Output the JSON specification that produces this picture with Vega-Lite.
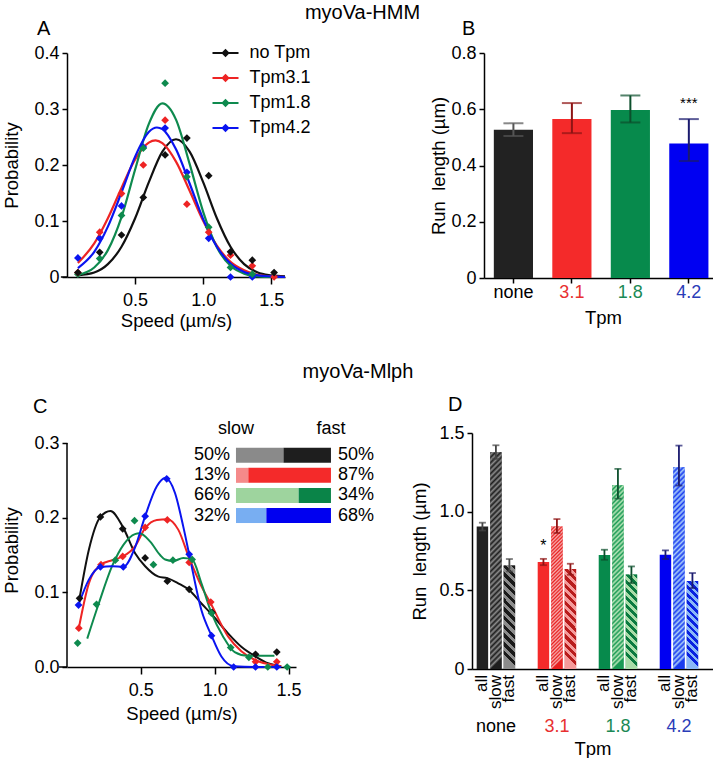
{
  "$schema": "https://vega.github.io/schema/vega-lite/v6.json",
  "background": "white",
  "padding": {"left": 2, "top": 3, "right": 0, "bottom": 0},
  "config": {
    "font": "Liberation Sans",
    "view": {"stroke": null},
    "axis": {"domainColor": "#000", "domainWidth": 1.5, "tickColor": "#000", "tickWidth": 1.5, "tickSize": 6, "labelFontSize": 18, "labelColor": "#000", "titleFontSize": 18.5, "titleFontWeight": "normal", "titleColor": "#000", "grid": false, "labelPadding": 3},
    "title": {"fontSize": 20, "fontWeight": "normal", "color": "#000"}
  },
  "datasets": {
    "Acurves": [
      {"s":"no Tpm","x":0.08,"y":0.003},{"s":"no Tpm","x":0.2,"y":0.008},{"s":"no Tpm","x":0.3,"y":0.023},{"s":"no Tpm","x":0.4,"y":0.054},{"s":"no Tpm","x":0.5,"y":0.105},{"s":"no Tpm","x":0.6,"y":0.169},{"s":"no Tpm","x":0.7,"y":0.224},{"s":"no Tpm","x":0.8,"y":0.246},{"s":"no Tpm","x":0.9,"y":0.224},{"s":"no Tpm","x":1.0,"y":0.169},{"s":"no Tpm","x":1.1,"y":0.105},{"s":"no Tpm","x":1.2,"y":0.054},{"s":"no Tpm","x":1.3,"y":0.023},{"s":"no Tpm","x":1.4,"y":0.008},{"s":"no Tpm","x":1.5,"y":0.003},{"s":"no Tpm","x":1.6,"y":0.001},
      {"s":"Tpm3.1","x":0.08,"y":0.025},{"s":"Tpm3.1","x":0.2,"y":0.060},{"s":"Tpm3.1","x":0.3,"y":0.105},{"s":"Tpm3.1","x":0.4,"y":0.159},{"s":"Tpm3.1","x":0.5,"y":0.210},{"s":"Tpm3.1","x":0.6,"y":0.240},{"s":"Tpm3.1","x":0.65,"y":0.244},{"s":"Tpm3.1","x":0.7,"y":0.239},{"s":"Tpm3.1","x":0.8,"y":0.206},{"s":"Tpm3.1","x":0.9,"y":0.154},{"s":"Tpm3.1","x":1.0,"y":0.100},{"s":"Tpm3.1","x":1.1,"y":0.056},{"s":"Tpm3.1","x":1.2,"y":0.027},{"s":"Tpm3.1","x":1.3,"y":0.012},{"s":"Tpm3.1","x":1.4,"y":0.004},{"s":"Tpm3.1","x":1.5,"y":0.001},{"s":"Tpm3.1","x":1.6,"y":0.0},
      {"s":"Tpm1.8","x":0.08,"y":0.004},{"s":"Tpm1.8","x":0.2,"y":0.017},{"s":"Tpm1.8","x":0.3,"y":0.048},{"s":"Tpm1.8","x":0.4,"y":0.107},{"s":"Tpm1.8","x":0.5,"y":0.192},{"s":"Tpm1.8","x":0.6,"y":0.273},{"s":"Tpm1.8","x":0.7,"y":0.310},{"s":"Tpm1.8","x":0.8,"y":0.281},{"s":"Tpm1.8","x":0.9,"y":0.202},{"s":"Tpm1.8","x":1.0,"y":0.116},{"s":"Tpm1.8","x":1.1,"y":0.053},{"s":"Tpm1.8","x":1.2,"y":0.020},{"s":"Tpm1.8","x":1.3,"y":0.006},{"s":"Tpm1.8","x":1.4,"y":0.001},{"s":"Tpm1.8","x":1.5,"y":0.0},{"s":"Tpm1.8","x":1.6,"y":0.0},
      {"s":"Tpm4.2","x":0.08,"y":0.016},{"s":"Tpm4.2","x":0.2,"y":0.045},{"s":"Tpm4.2","x":0.3,"y":0.090},{"s":"Tpm4.2","x":0.4,"y":0.151},{"s":"Tpm4.2","x":0.5,"y":0.215},{"s":"Tpm4.2","x":0.6,"y":0.259},{"s":"Tpm4.2","x":0.66,"y":0.267},{"s":"Tpm4.2","x":0.7,"y":0.264},{"s":"Tpm4.2","x":0.8,"y":0.228},{"s":"Tpm4.2","x":0.9,"y":0.167},{"s":"Tpm4.2","x":1.0,"y":0.103},{"s":"Tpm4.2","x":1.1,"y":0.054},{"s":"Tpm4.2","x":1.2,"y":0.024},{"s":"Tpm4.2","x":1.3,"y":0.009},{"s":"Tpm4.2","x":1.4,"y":0.003},{"s":"Tpm4.2","x":1.5,"y":0.001},{"s":"Tpm4.2","x":1.6,"y":0.0}
    ],
    "Apoints": [
      {"s":"Tpm4.2","x":0.08,"y":0.034},{"s":"Tpm4.2","x":0.24,"y":0.069},{"s":"Tpm4.2","x":0.40,"y":0.127},{"s":"Tpm4.2","x":0.56,"y":0.232},{"s":"Tpm4.2","x":0.72,"y":0.266},{"s":"Tpm4.2","x":0.88,"y":0.187},{"s":"Tpm4.2","x":1.04,"y":0.069},{"s":"Tpm4.2","x":1.20,"y":0.0},{"s":"Tpm4.2","x":1.36,"y":0.0},
      {"s":"Tpm1.8","x":0.08,"y":0.005},{"s":"Tpm1.8","x":0.24,"y":0.033},{"s":"Tpm1.8","x":0.40,"y":0.110},{"s":"Tpm1.8","x":0.56,"y":0.230},{"s":"Tpm1.8","x":0.72,"y":0.346},{"s":"Tpm1.8","x":0.88,"y":0.179},{"s":"Tpm1.8","x":1.04,"y":0.089},{"s":"Tpm1.8","x":1.20,"y":0.017},{"s":"Tpm1.8","x":1.36,"y":0.005},
      {"s":"Tpm3.1","x":0.08,"y":0.008},{"s":"Tpm3.1","x":0.24,"y":0.080},{"s":"Tpm3.1","x":0.40,"y":0.149},{"s":"Tpm3.1","x":0.56,"y":0.200},{"s":"Tpm3.1","x":0.72,"y":0.280},{"s":"Tpm3.1","x":0.88,"y":0.130},{"s":"Tpm3.1","x":1.04,"y":0.080},{"s":"Tpm3.1","x":1.20,"y":0.039},{"s":"Tpm3.1","x":1.36,"y":0.020},{"s":"Tpm3.1","x":1.52,"y":0.0},
      {"s":"no Tpm","x":0.08,"y":0.008},{"s":"no Tpm","x":0.24,"y":0.044},{"s":"no Tpm","x":0.40,"y":0.075},{"s":"no Tpm","x":0.56,"y":0.142},{"s":"no Tpm","x":0.72,"y":0.218},{"s":"no Tpm","x":0.88,"y":0.248},{"s":"no Tpm","x":1.04,"y":0.181},{"s":"no Tpm","x":1.20,"y":0.045},{"s":"no Tpm","x":1.36,"y":0.030},{"s":"no Tpm","x":1.52,"y":0.008}
    ],
    "Alegend": [
      {"s":"no Tpm","row":1},{"s":"Tpm3.1","row":2},{"s":"Tpm1.8","row":3},{"s":"Tpm4.2","row":4}
    ],
    "B": [
      {"tpm":"none","v":0.527,"lo":0.505,"hi":0.550},
      {"tpm":"3.1","v":0.565,"lo":0.515,"hi":0.622},
      {"tpm":"1.8","v":0.597,"lo":0.553,"hi":0.649},
      {"tpm":"4.2","v":0.478,"lo":0.416,"hi":0.565,"sig":"***"}
    ],
    "Ccurves": [
      {"s":"no Tpm","x":0.085,"y":0.092},{"s":"no Tpm","x":0.148,"y":0.157},{"s":"no Tpm","x":0.226,"y":0.201},{"s":"no Tpm","x":0.294,"y":0.209},{"s":"no Tpm","x":0.377,"y":0.188},{"s":"no Tpm","x":0.462,"y":0.152},{"s":"no Tpm","x":0.529,"y":0.135},{"s":"no Tpm","x":0.619,"y":0.121},{"s":"no Tpm","x":0.679,"y":0.119},{"s":"no Tpm","x":0.753,"y":0.112},{"s":"no Tpm","x":0.827,"y":0.103},{"s":"no Tpm","x":0.91,"y":0.085},{"s":"no Tpm","x":0.982,"y":0.07},{"s":"no Tpm","x":1.09,"y":0.045},{"s":"no Tpm","x":1.18,"y":0.027},{"s":"no Tpm","x":1.276,"y":0.014},{"s":"no Tpm","x":1.36,"y":0.005},{"s":"no Tpm","x":1.45,"y":0.001},
      {"s":"Tpm3.1","x":0.08,"y":0.052},{"s":"Tpm3.1","x":0.148,"y":0.112},{"s":"Tpm3.1","x":0.23,"y":0.137},{"s":"Tpm3.1","x":0.305,"y":0.143},{"s":"Tpm3.1","x":0.377,"y":0.148},{"s":"Tpm3.1","x":0.462,"y":0.162},{"s":"Tpm3.1","x":0.529,"y":0.186},{"s":"Tpm3.1","x":0.608,"y":0.197},{"s":"Tpm3.1","x":0.679,"y":0.198},{"s":"Tpm3.1","x":0.753,"y":0.184},{"s":"Tpm3.1","x":0.827,"y":0.146},{"s":"Tpm3.1","x":0.91,"y":0.108},{"s":"Tpm3.1","x":0.973,"y":0.085},{"s":"Tpm3.1","x":1.09,"y":0.041},{"s":"Tpm3.1","x":1.18,"y":0.021},{"s":"Tpm3.1","x":1.276,"y":0.009},{"s":"Tpm3.1","x":1.36,"y":0.004},{"s":"Tpm3.1","x":1.45,"y":0.001},
      {"s":"Tpm1.8","x":0.137,"y":0.038},{"s":"Tpm1.8","x":0.215,"y":0.085},{"s":"Tpm1.8","x":0.305,"y":0.135},{"s":"Tpm1.8","x":0.383,"y":0.164},{"s":"Tpm1.8","x":0.46,"y":0.178},{"s":"Tpm1.8","x":0.49,"y":0.179},{"s":"Tpm1.8","x":0.563,"y":0.168},{"s":"Tpm1.8","x":0.63,"y":0.150},{"s":"Tpm1.8","x":0.664,"y":0.144},{"s":"Tpm1.8","x":0.72,"y":0.142},{"s":"Tpm1.8","x":0.787,"y":0.146},{"s":"Tpm1.8","x":0.847,"y":0.144},{"s":"Tpm1.8","x":0.91,"y":0.112},{"s":"Tpm1.8","x":0.978,"y":0.072},{"s":"Tpm1.8","x":1.056,"y":0.041},{"s":"Tpm1.8","x":1.135,"y":0.020},{"s":"Tpm1.8","x":1.224,"y":0.015},{"s":"Tpm1.8","x":1.404,"y":0.015},
      {"s":"Tpm4.2","x":0.078,"y":0.083},{"s":"Tpm4.2","x":0.148,"y":0.117},{"s":"Tpm4.2","x":0.226,"y":0.134},{"s":"Tpm4.2","x":0.305,"y":0.135},{"s":"Tpm4.2","x":0.381,"y":0.134},{"s":"Tpm4.2","x":0.462,"y":0.161},{"s":"Tpm4.2","x":0.529,"y":0.202},{"s":"Tpm4.2","x":0.608,"y":0.242},{"s":"Tpm4.2","x":0.664,"y":0.253},{"s":"Tpm4.2","x":0.731,"y":0.233},{"s":"Tpm4.2","x":0.787,"y":0.188},{"s":"Tpm4.2","x":0.827,"y":0.151},{"s":"Tpm4.2","x":0.91,"y":0.076},{"s":"Tpm4.2","x":0.978,"y":0.042},{"s":"Tpm4.2","x":1.045,"y":0.014},{"s":"Tpm4.2","x":1.128,"y":0.001},{"s":"Tpm4.2","x":1.27,"y":0.0},{"s":"Tpm4.2","x":1.45,"y":0.0}
    ],
    "Cpoints": [
      {"s":"no Tpm","x":0.085,"y":0.092},{"s":"no Tpm","x":0.226,"y":0.201},{"s":"no Tpm","x":0.377,"y":0.185},{"s":"no Tpm","x":0.529,"y":0.146},{"s":"no Tpm","x":0.679,"y":0.115},{"s":"no Tpm","x":0.827,"y":0.104},{"s":"no Tpm","x":0.982,"y":0.073},{"s":"no Tpm","x":1.276,"y":0.017},{"s":"no Tpm","x":1.42,"y":0.020},
      {"s":"Tpm3.1","x":0.08,"y":0.052},{"s":"Tpm3.1","x":0.23,"y":0.137},{"s":"Tpm3.1","x":0.377,"y":0.148},{"s":"Tpm3.1","x":0.529,"y":0.187},{"s":"Tpm3.1","x":0.679,"y":0.197},{"s":"Tpm3.1","x":0.827,"y":0.140},{"s":"Tpm3.1","x":0.973,"y":0.087},{"s":"Tpm3.1","x":1.276,"y":0.007},{"s":"Tpm3.1","x":1.42,"y":0.007},
      {"s":"Tpm1.8","x":0.072,"y":0.032},{"s":"Tpm1.8","x":0.2,"y":0.084},{"s":"Tpm1.8","x":0.327,"y":0.143},{"s":"Tpm1.8","x":0.457,"y":0.196},{"s":"Tpm1.8","x":0.585,"y":0.137},{"s":"Tpm1.8","x":0.717,"y":0.143},{"s":"Tpm1.8","x":0.847,"y":0.144},{"s":"Tpm1.8","x":0.978,"y":0.072},{"s":"Tpm1.8","x":1.108,"y":0.026},{"s":"Tpm1.8","x":1.231,"y":0.013},{"s":"Tpm1.8","x":1.359,"y":0.0},{"s":"Tpm1.8","x":1.49,"y":0.0},
      {"s":"Tpm4.2","x":0.078,"y":0.083},{"s":"Tpm4.2","x":0.226,"y":0.134},{"s":"Tpm4.2","x":0.381,"y":0.134},{"s":"Tpm4.2","x":0.529,"y":0.202},{"s":"Tpm4.2","x":0.675,"y":0.252},{"s":"Tpm4.2","x":0.827,"y":0.151},{"s":"Tpm4.2","x":0.978,"y":0.042},{"s":"Tpm4.2","x":1.128,"y":0.0},{"s":"Tpm4.2","x":1.276,"y":0.0},{"s":"Tpm4.2","x":1.42,"y":0.0}
    ],
    "Clegbars": [
      {"row":1,"key":"no Tpm slow","start":0,"end":50},{"row":1,"key":"no Tpm fast","start":50,"end":100},
      {"row":2,"key":"Tpm3.1 slow","start":0,"end":13},{"row":2,"key":"Tpm3.1 fast","start":13,"end":100},
      {"row":3,"key":"Tpm1.8 slow","start":0,"end":66},{"row":3,"key":"Tpm1.8 fast","start":66,"end":100},
      {"row":4,"key":"Tpm4.2 slow","start":0,"end":32},{"row":4,"key":"Tpm4.2 fast","start":32,"end":100}
    ],
    "Clegrows": [
      {"row":1,"slow":"50%","fast":"50%"},
      {"row":2,"slow":"13%","fast":"87%"},
      {"row":3,"slow":"66%","fast":"34%"},
      {"row":4,"slow":"32%","fast":"68%"}
    ],
    "D": [
      {"tpm":"none","type":"all","key":"none all","v":0.906,"lo":0.880,"hi":0.930},
      {"tpm":"none","type":"slow","key":"none slow","v":1.378,"lo":1.335,"hi":1.422},
      {"tpm":"none","type":"fast","key":"none fast","v":0.658,"lo":0.620,"hi":0.699},
      {"tpm":"3.1","type":"all","key":"3.1 all","v":0.680,"lo":0.660,"hi":0.700,"sig":"*"},
      {"tpm":"3.1","type":"slow","key":"3.1 slow","v":0.906,"lo":0.864,"hi":0.953},
      {"tpm":"3.1","type":"fast","key":"3.1 fast","v":0.635,"lo":0.599,"hi":0.669},
      {"tpm":"1.8","type":"all","key":"1.8 all","v":0.724,"lo":0.694,"hi":0.758},
      {"tpm":"1.8","type":"slow","key":"1.8 slow","v":1.168,"lo":1.083,"hi":1.272},
      {"tpm":"1.8","type":"fast","key":"1.8 fast","v":0.601,"lo":0.546,"hi":0.652},
      {"tpm":"4.2","type":"all","key":"4.2 all","v":0.726,"lo":0.699,"hi":0.754},
      {"tpm":"4.2","type":"slow","key":"4.2 slow","v":1.282,"lo":1.166,"hi":1.420},
      {"tpm":"4.2","type":"fast","key":"4.2 fast","v":0.559,"lo":0.514,"hi":0.610}
    ]
  },
  "spacing": 32,
  "resolve": {"scale": {"color": "independent", "fill": "independent", "stroke": "independent"}},
  "vconcat": [
    {
      "title": {"text": "myoVa-HMM", "anchor": "middle", "fontSize": 20, "offset": -4},
      "spacing": 118,
      "resolve": {"scale": {"color": "independent", "fill": "independent", "stroke": "independent"}},
      "hconcat": [
        {
          "title": {"text": "A", "anchor": "start", "frame": "group", "dx": -30, "offset": 5},
          "width": 218, "height": 224,
          "resolve": {"scale": {"x": "independent", "y": "independent"}},
          "layer": [
            {
              "layer": [
                {
                  "data": {"name": "Acurves"},
                  "mark": {"type": "line", "interpolate": "monotone", "strokeWidth": 2.2},
                  "encoding": {
                    "x": {"field": "x", "type": "quantitative", "scale": {"domain": [0, 1.6], "nice": false}, "axis": {"values": [0.5, 1, 1.5], "format": ".1f", "title": "Speed (µm/s)", "tickSize": 7, "labelPadding": 7, "titlePadding": 2}},
                    "y": {"field": "y", "type": "quantitative", "scale": {"domain": [0, 0.4], "nice": false}, "axis": {"values": [0, 0.1, 0.2, 0.3, 0.4], "labelExpr": "datum.value == 0 ? '0' : format(datum.value, '.1f')", "title": "Probability", "tickSize": 5, "titlePadding": 12}},
                    "stroke": {"field": "s", "type": "nominal", "scale": {"domain": ["no Tpm", "Tpm3.1", "Tpm1.8", "Tpm4.2"], "range": ["#111111", "#ee2424", "#0e8a4e", "#0a14f0"]}, "legend": null}
                  }
                },
                {
                  "data": {"values": [{"a": 0}]},
                  "mark": {"type": "rule", "strokeWidth": 1.5, "color": "#000"},
                  "encoding": {
                    "x": {"datum": -0.045, "type": "quantitative"},
                    "x2": {"datum": 0},
                    "y": {"datum": 0, "type": "quantitative"}
                  }
                },
                {
                  "data": {"name": "Apoints"},
                  "mark": {"type": "point", "shape": "diamond", "filled": true, "size": 60, "opacity": 1},
                  "encoding": {
                    "x": {"field": "x", "type": "quantitative"},
                    "y": {"field": "y", "type": "quantitative"},
                    "fill": {"field": "s", "type": "nominal", "scale": {"domain": ["no Tpm", "Tpm3.1", "Tpm1.8", "Tpm4.2"], "range": ["#111111", "#ee2424", "#0e8a4e", "#0a14f0"]}, "legend": null}
                  }
                }
              ]
            },
            {
              "data": {"name": "Alegend"},
              "layer": [
                {
                  "mark": {"type": "point", "shape": "M-1.3,-0.09H1.3V0.09H-1.3Z M0,-0.42L0.42,0L0,0.42L-0.42,0Z", "filled": true, "size": 400, "opacity": 1, "strokeWidth": 0},
                  "encoding": {
                    "x": {"datum": 0, "type": "quantitative", "scale": {"domain": [-158.5, 59.5], "nice": false, "zero": false}, "axis": null},
                    "y": {"field": "row", "type": "quantitative", "scale": {"domain": [1, 9.96], "nice": false, "zero": false, "reverse": true}, "axis": null},
                    "color": {"field": "s", "type": "nominal", "scale": {"domain": ["no Tpm", "Tpm3.1", "Tpm1.8", "Tpm4.2"], "range": ["#111111", "#ee2424", "#0e8a4e", "#0a14f0"]}, "legend": null}
                  }
                },
                {
                  "mark": {"type": "text", "align": "left", "baseline": "middle", "dx": 24, "fontSize": 18},
                  "encoding": {
                    "x": {"datum": 0, "type": "quantitative"},
                    "y": {"field": "row", "type": "quantitative"},
                    "text": {"field": "s"}
                  }
                }
              ]
            }
          ]
        },
        {
          "title": {"text": "B", "anchor": "start", "frame": "group", "dx": -22, "offset": 5},
          "width": 238, "height": 225,
          "data": {"name": "B"},
          "encoding": {
            "x": {"field": "tpm", "type": "nominal", "sort": null, "scale": {"domain": ["none", "3.1", "1.8", "4.2"], "paddingInner": 0.33, "paddingOuter": 0.2, "align": 0.42},
              "axis": {"title": "Tpm", "labelAngle": 0, "tickSize": 5, "labelPadding": 0, "titlePadding": 7,
                "labelColor": {"condition": [{"test": "datum.value === '3.1'", "value": "#e83030"}, {"test": "datum.value === '1.8'", "value": "#1a8a55"}, {"test": "datum.value === '4.2'", "value": "#2a3cb8"}], "value": "#000"}}}
          },
          "layer": [
            {
              "mark": {"type": "bar"},
              "encoding": {
                "y": {"field": "v", "type": "quantitative", "scale": {"domain": [0, 0.8], "nice": false}, "axis": {"values": [0, 0.2, 0.4, 0.6, 0.8], "labelExpr": "datum.value == 0 ? '0' : format(datum.value, '.1f')", "title": "Run \u00a0length (µm)", "tickSize": 5, "titlePadding": 2}},
                "color": {"field": "tpm", "type": "nominal", "scale": {"domain": ["none", "3.1", "1.8", "4.2"], "range": ["#222222", "#f42a2a", "#078a4c", "#0000f2"]}, "legend": null}
              }
            },
            {
              "mark": {"type": "rule", "strokeWidth": 2},
              "encoding": {
                "y": {"field": "lo", "type": "quantitative"},
                "y2": {"field": "hi"},
                "stroke": {"field": "tpm", "type": "nominal", "scale": {"domain": ["none", "3.1", "1.8", "4.2"], "range": ["#555555", "#8e1414", "#0c4f2c", "#1a1a6e"]}, "legend": null}
              }
            },
            {
              "mark": {"type": "tick", "size": 20, "thickness": 2},
              "encoding": {
                "y": {"field": "hi", "type": "quantitative"},
                "fill": {"field": "tpm", "type": "nominal", "scale": {"domain": ["none", "3.1", "1.8", "4.2"], "range": ["#555555", "#8e1414", "#0c4f2c", "#1a1a6e"]}, "legend": null}
              }
            },
            {
              "mark": {"type": "tick", "size": 20, "thickness": 2},
              "encoding": {
                "y": {"field": "lo", "type": "quantitative"},
                "fill": {"field": "tpm", "type": "nominal", "legend": null}
              }
            },
            {
              "transform": [{"filter": "datum.sig"}],
              "mark": {"type": "text", "fontSize": 15, "baseline": "bottom", "dy": -8},
              "encoding": {
                "y": {"field": "hi", "type": "quantitative"},
                "text": {"field": "sig"}
              }
            }
          ]
        }
      ]
    },
    {
      "title": {"text": "myoVa-Mlph", "anchor": "middle", "fontSize": 20, "offset": 13},
      "spacing": 36,
      "resolve": {"scale": {"color": "independent", "fill": "independent", "stroke": "independent"}},
      "hconcat": [
        {
          "title": {"text": "C", "anchor": "start", "frame": "group", "dx": -34, "offset": 3},
          "width": 229, "height": 234,
          "resolve": {"scale": {"x": "independent", "y": "independent", "color": "independent"}},
          "layer": [
            {
              "layer": [
                {
                  "data": {"values": [{"a": 0}]},
                  "mark": {"type": "rule", "strokeWidth": 1.5, "color": "#000"},
                  "encoding": {
                    "x": {"datum": 0, "type": "quantitative"},
                    "y": {"datum": 0, "type": "quantitative"},
                    "y2": {"datum": 0.3}
                  }
                },
                {
                  "data": {"values": [{"a": 0}]},
                  "mark": {"type": "rule", "strokeWidth": 1.5, "color": "#000"},
                  "encoding": {
                    "x": {"datum": -0.054, "type": "quantitative"},
                    "x2": {"datum": 0},
                    "y": {"datum": 0, "type": "quantitative"}
                  }
                },
                {
                  "data": {"name": "Ccurves"},
                  "mark": {"type": "line", "interpolate": "monotone", "strokeWidth": 2},
                  "encoding": {
                    "x": {"field": "x", "type": "quantitative", "scale": {"domain": [0, 1.55], "nice": false}, "axis": {"values": [0.5, 1, 1.5], "format": ".1f", "title": "Speed (µm/s)", "tickSize": 7, "labelPadding": 7, "titlePadding": 5}},
                    "y": {"field": "y", "type": "quantitative", "scale": {"domain": [0, 0.3134], "nice": false}, "axis": {"values": [0, 0.1, 0.2, 0.3], "format": ".1f", "title": "Probability", "tickSize": 5, "titlePadding": 12, "domain": false}},
                    "color": {"field": "s", "type": "nominal", "scale": {"domain": ["no Tpm", "Tpm3.1", "Tpm1.8", "Tpm4.2"], "range": ["#111111", "#ee2424", "#0e8a4e", "#0a14f0"]}, "legend": null}
                  }
                },
                {
                  "data": {"name": "Cpoints"},
                  "mark": {"type": "point", "shape": "diamond", "filled": true, "size": 60, "opacity": 1},
                  "encoding": {
                    "x": {"field": "x", "type": "quantitative"},
                    "y": {"field": "y", "type": "quantitative"},
                    "color": {"field": "s", "type": "nominal", "legend": null}
                  }
                }
              ]
            },
            {
              "layer": [
                {
                  "data": {"name": "Clegbars"},
                  "mark": {"type": "bar", "orient": "horizontal", "size": 15},
                  "encoding": {
                    "x": {"field": "start", "type": "quantitative", "scale": {"domain": [-177.9, 63.2], "nice": false, "zero": false}, "axis": null},
                    "x2": {"field": "end"},
                    "y": {"field": "row", "type": "quantitative", "scale": {"domain": [0.143, 11.286], "nice": false, "zero": false, "reverse": true}, "axis": null},
                    "color": {"field": "key", "type": "nominal", "scale": {"domain": ["no Tpm slow", "no Tpm fast", "Tpm3.1 slow", "Tpm3.1 fast", "Tpm1.8 slow", "Tpm1.8 fast", "Tpm4.2 slow", "Tpm4.2 fast"], "range": ["#8a8a8a", "#1e1e1e", "#f58a8a", "#f42a2a", "#9ed49e", "#0a8448", "#78aef2", "#0000f0"]}, "legend": null}
                  }
                },
                {
                  "data": {"name": "Clegrows"},
                  "mark": {"type": "text", "align": "right", "baseline": "middle", "dx": -6, "fontSize": 18},
                  "encoding": {
                    "x": {"datum": 0, "type": "quantitative"},
                    "y": {"field": "row", "type": "quantitative"},
                    "text": {"field": "slow"}
                  }
                },
                {
                  "data": {"name": "Clegrows"},
                  "mark": {"type": "text", "align": "left", "baseline": "middle", "dx": 7, "fontSize": 18},
                  "encoding": {
                    "x": {"datum": 100, "type": "quantitative"},
                    "y": {"field": "row", "type": "quantitative"},
                    "text": {"field": "fast"}
                  }
                },
                {
                  "data": {"values": [{"label": "slow", "pos": 0}, {"label": "fast", "pos": 100}]},
                  "mark": {"type": "text", "baseline": "middle", "dy": -26, "fontSize": 18},
                  "encoding": {
                    "x": {"field": "pos", "type": "quantitative"},
                    "y": {"datum": 1, "type": "quantitative"},
                    "text": {"field": "label"},
                    "align": {"condition": {"test": "datum.pos == 0", "value": "right"}, "value": "left"},
                    "dx": {"condition": {"test": "datum.pos == 0", "value": -5}, "value": 7}
                  }
                }
              ]
            }
          ]
        },
        {
          "title": {"text": "D", "anchor": "start", "frame": "group", "dx": -24, "offset": 9},
          "width": 241, "height": 236,
          "data": {"name": "D"},
          "encoding": {
            "x": {"field": "tpm", "type": "nominal", "sort": null, "scale": {"domain": ["none", "3.1", "1.8", "4.2"], "paddingInner": 0.37, "paddingOuter": 0.16, "align": 0.24},
              "axis": {"title": "Tpm", "labelAngle": 0, "ticks": false, "labelPadding": 48, "titlePadding": 4,
                "labelColor": {"condition": [{"test": "datum.value === '3.1'", "value": "#e83030"}, {"test": "datum.value === '1.8'", "value": "#1a8a55"}, {"test": "datum.value === '4.2'", "value": "#2a3cb8"}], "value": "#000"}}},
            "xOffset": {"field": "type", "type": "nominal", "sort": null, "scale": {"domain": ["all", "slow", "fast"], "paddingInner": 0.15, "paddingOuter": 0}}
          },
          "layer": [
            {
              "mark": {"type": "bar"},
              "encoding": {
                "y": {"field": "v", "type": "quantitative", "scale": {"domain": [0, 1.5], "nice": false}, "axis": {"values": [0, 0.5, 1, 1.5], "labelExpr": "datum.value == 0 ? '0' : format(datum.value, '.1f')", "title": "Run \u00a0length (µm)", "tickSize": 5, "titlePadding": 9}},
                "color": {"field": "key", "type": "nominal", "scale": {"domain": ["none all", "none slow", "none fast", "3.1 all", "3.1 slow", "3.1 fast", "1.8 all", "1.8 slow", "1.8 fast", "4.2 all", "4.2 slow", "4.2 fast"], "range": ["#222222", "#545454", "#555555", "#f42a2a", "#f06868", "#d85c5c", "#078a4c", "#69c086", "#5aab75", "#0000f2", "#6184f5", "#4a6cec"]}, "legend": null}
              }
            },
            {
              "transform": [{"filter": "datum.key === 'none slow'"}],
              "mark": {"type": "bar", "fill": {"gradient": "linear", "x1": 0, "y1": 0, "x2": 0.053, "y2": 1, "stops": [
                {"offset":0,"color":"#1e1e1e"},{"offset":0.0125,"color":"#8a8a8a"},{"offset":0.025,"color":"#1e1e1e"},{"offset":0.0375,"color":"#8a8a8a"},{"offset":0.05,"color":"#1e1e1e"},{"offset":0.0625,"color":"#8a8a8a"},{"offset":0.075,"color":"#1e1e1e"},{"offset":0.0875,"color":"#8a8a8a"},{"offset":0.1,"color":"#1e1e1e"},{"offset":0.1125,"color":"#8a8a8a"},{"offset":0.125,"color":"#1e1e1e"},{"offset":0.1375,"color":"#8a8a8a"},{"offset":0.15,"color":"#1e1e1e"},{"offset":0.1625,"color":"#8a8a8a"},{"offset":0.175,"color":"#1e1e1e"},{"offset":0.1875,"color":"#8a8a8a"},{"offset":0.2,"color":"#1e1e1e"},{"offset":0.2125,"color":"#8a8a8a"},{"offset":0.225,"color":"#1e1e1e"},{"offset":0.2375,"color":"#8a8a8a"},{"offset":0.25,"color":"#1e1e1e"},{"offset":0.2625,"color":"#8a8a8a"},{"offset":0.275,"color":"#1e1e1e"},{"offset":0.2875,"color":"#8a8a8a"},{"offset":0.3,"color":"#1e1e1e"},{"offset":0.3125,"color":"#8a8a8a"},{"offset":0.325,"color":"#1e1e1e"},{"offset":0.3375,"color":"#8a8a8a"},{"offset":0.35,"color":"#1e1e1e"},{"offset":0.3625,"color":"#8a8a8a"},{"offset":0.375,"color":"#1e1e1e"},{"offset":0.3875,"color":"#8a8a8a"},{"offset":0.4,"color":"#1e1e1e"},{"offset":0.4125,"color":"#8a8a8a"},{"offset":0.425,"color":"#1e1e1e"},{"offset":0.4375,"color":"#8a8a8a"},{"offset":0.45,"color":"#1e1e1e"},{"offset":0.4625,"color":"#8a8a8a"},{"offset":0.475,"color":"#1e1e1e"},{"offset":0.4875,"color":"#8a8a8a"},{"offset":0.5,"color":"#1e1e1e"},{"offset":0.5125,"color":"#8a8a8a"},{"offset":0.525,"color":"#1e1e1e"},{"offset":0.5375,"color":"#8a8a8a"},{"offset":0.55,"color":"#1e1e1e"},{"offset":0.5625,"color":"#8a8a8a"},{"offset":0.575,"color":"#1e1e1e"},{"offset":0.5875,"color":"#8a8a8a"},{"offset":0.6,"color":"#1e1e1e"},{"offset":0.6125,"color":"#8a8a8a"},{"offset":0.625,"color":"#1e1e1e"},{"offset":0.6375,"color":"#8a8a8a"},{"offset":0.65,"color":"#1e1e1e"},{"offset":0.6625,"color":"#8a8a8a"},{"offset":0.675,"color":"#1e1e1e"},{"offset":0.6875,"color":"#8a8a8a"},{"offset":0.7,"color":"#1e1e1e"},{"offset":0.7125,"color":"#8a8a8a"},{"offset":0.725,"color":"#1e1e1e"},{"offset":0.7375,"color":"#8a8a8a"},{"offset":0.75,"color":"#1e1e1e"},{"offset":0.7625,"color":"#8a8a8a"},{"offset":0.775,"color":"#1e1e1e"},{"offset":0.7875,"color":"#8a8a8a"},{"offset":0.8,"color":"#1e1e1e"},{"offset":0.8125,"color":"#8a8a8a"},{"offset":0.825,"color":"#1e1e1e"},{"offset":0.8375,"color":"#8a8a8a"},{"offset":0.85,"color":"#1e1e1e"},{"offset":0.8625,"color":"#8a8a8a"},{"offset":0.875,"color":"#1e1e1e"},{"offset":0.8875,"color":"#8a8a8a"},{"offset":0.9,"color":"#1e1e1e"},{"offset":0.9125,"color":"#8a8a8a"},{"offset":0.925,"color":"#1e1e1e"},{"offset":0.9375,"color":"#8a8a8a"},{"offset":0.95,"color":"#1e1e1e"},{"offset":0.9625,"color":"#8a8a8a"},{"offset":0.975,"color":"#1e1e1e"},{"offset":0.9875,"color":"#8a8a8a"},{"offset":1,"color":"#1e1e1e"}]}},
              "encoding": {"y": {"field": "v", "type": "quantitative"}}
            },
            {
              "transform": [{"filter": "datum.key === '3.1 slow'"}],
              "mark": {"type": "bar", "fill": {"gradient": "linear", "x1": 0, "y1": 0, "x2": 0.08, "y2": 1, "stops": [
                {"offset":0,"color":"#e82020"},{"offset":0.0125,"color":"#f8b0b0"},{"offset":0.025,"color":"#e82020"},{"offset":0.0375,"color":"#f8b0b0"},{"offset":0.05,"color":"#e82020"},{"offset":0.0625,"color":"#f8b0b0"},{"offset":0.075,"color":"#e82020"},{"offset":0.0875,"color":"#f8b0b0"},{"offset":0.1,"color":"#e82020"},{"offset":0.1125,"color":"#f8b0b0"},{"offset":0.125,"color":"#e82020"},{"offset":0.1375,"color":"#f8b0b0"},{"offset":0.15,"color":"#e82020"},{"offset":0.1625,"color":"#f8b0b0"},{"offset":0.175,"color":"#e82020"},{"offset":0.1875,"color":"#f8b0b0"},{"offset":0.2,"color":"#e82020"},{"offset":0.2125,"color":"#f8b0b0"},{"offset":0.225,"color":"#e82020"},{"offset":0.2375,"color":"#f8b0b0"},{"offset":0.25,"color":"#e82020"},{"offset":0.2625,"color":"#f8b0b0"},{"offset":0.275,"color":"#e82020"},{"offset":0.2875,"color":"#f8b0b0"},{"offset":0.3,"color":"#e82020"},{"offset":0.3125,"color":"#f8b0b0"},{"offset":0.325,"color":"#e82020"},{"offset":0.3375,"color":"#f8b0b0"},{"offset":0.35,"color":"#e82020"},{"offset":0.3625,"color":"#f8b0b0"},{"offset":0.375,"color":"#e82020"},{"offset":0.3875,"color":"#f8b0b0"},{"offset":0.4,"color":"#e82020"},{"offset":0.4125,"color":"#f8b0b0"},{"offset":0.425,"color":"#e82020"},{"offset":0.4375,"color":"#f8b0b0"},{"offset":0.45,"color":"#e82020"},{"offset":0.4625,"color":"#f8b0b0"},{"offset":0.475,"color":"#e82020"},{"offset":0.4875,"color":"#f8b0b0"},{"offset":0.5,"color":"#e82020"},{"offset":0.5125,"color":"#f8b0b0"},{"offset":0.525,"color":"#e82020"},{"offset":0.5375,"color":"#f8b0b0"},{"offset":0.55,"color":"#e82020"},{"offset":0.5625,"color":"#f8b0b0"},{"offset":0.575,"color":"#e82020"},{"offset":0.5875,"color":"#f8b0b0"},{"offset":0.6,"color":"#e82020"},{"offset":0.6125,"color":"#f8b0b0"},{"offset":0.625,"color":"#e82020"},{"offset":0.6375,"color":"#f8b0b0"},{"offset":0.65,"color":"#e82020"},{"offset":0.6625,"color":"#f8b0b0"},{"offset":0.675,"color":"#e82020"},{"offset":0.6875,"color":"#f8b0b0"},{"offset":0.7,"color":"#e82020"},{"offset":0.7125,"color":"#f8b0b0"},{"offset":0.725,"color":"#e82020"},{"offset":0.7375,"color":"#f8b0b0"},{"offset":0.75,"color":"#e82020"},{"offset":0.7625,"color":"#f8b0b0"},{"offset":0.775,"color":"#e82020"},{"offset":0.7875,"color":"#f8b0b0"},{"offset":0.8,"color":"#e82020"},{"offset":0.8125,"color":"#f8b0b0"},{"offset":0.825,"color":"#e82020"},{"offset":0.8375,"color":"#f8b0b0"},{"offset":0.85,"color":"#e82020"},{"offset":0.8625,"color":"#f8b0b0"},{"offset":0.875,"color":"#e82020"},{"offset":0.8875,"color":"#f8b0b0"},{"offset":0.9,"color":"#e82020"},{"offset":0.9125,"color":"#f8b0b0"},{"offset":0.925,"color":"#e82020"},{"offset":0.9375,"color":"#f8b0b0"},{"offset":0.95,"color":"#e82020"},{"offset":0.9625,"color":"#f8b0b0"},{"offset":0.975,"color":"#e82020"},{"offset":0.9875,"color":"#f8b0b0"},{"offset":1,"color":"#e82020"}]}},
              "encoding": {"y": {"field": "v", "type": "quantitative"}}
            },
            {
              "transform": [{"filter": "datum.key === '1.8 slow'"}],
              "mark": {"type": "bar", "fill": {"gradient": "linear", "x1": 0, "y1": 0, "x2": 0.062, "y2": 1, "stops": [
                {"offset":0,"color":"#1a9a55"},{"offset":0.0125,"color":"#b8e6b8"},{"offset":0.025,"color":"#1a9a55"},{"offset":0.0375,"color":"#b8e6b8"},{"offset":0.05,"color":"#1a9a55"},{"offset":0.0625,"color":"#b8e6b8"},{"offset":0.075,"color":"#1a9a55"},{"offset":0.0875,"color":"#b8e6b8"},{"offset":0.1,"color":"#1a9a55"},{"offset":0.1125,"color":"#b8e6b8"},{"offset":0.125,"color":"#1a9a55"},{"offset":0.1375,"color":"#b8e6b8"},{"offset":0.15,"color":"#1a9a55"},{"offset":0.1625,"color":"#b8e6b8"},{"offset":0.175,"color":"#1a9a55"},{"offset":0.1875,"color":"#b8e6b8"},{"offset":0.2,"color":"#1a9a55"},{"offset":0.2125,"color":"#b8e6b8"},{"offset":0.225,"color":"#1a9a55"},{"offset":0.2375,"color":"#b8e6b8"},{"offset":0.25,"color":"#1a9a55"},{"offset":0.2625,"color":"#b8e6b8"},{"offset":0.275,"color":"#1a9a55"},{"offset":0.2875,"color":"#b8e6b8"},{"offset":0.3,"color":"#1a9a55"},{"offset":0.3125,"color":"#b8e6b8"},{"offset":0.325,"color":"#1a9a55"},{"offset":0.3375,"color":"#b8e6b8"},{"offset":0.35,"color":"#1a9a55"},{"offset":0.3625,"color":"#b8e6b8"},{"offset":0.375,"color":"#1a9a55"},{"offset":0.3875,"color":"#b8e6b8"},{"offset":0.4,"color":"#1a9a55"},{"offset":0.4125,"color":"#b8e6b8"},{"offset":0.425,"color":"#1a9a55"},{"offset":0.4375,"color":"#b8e6b8"},{"offset":0.45,"color":"#1a9a55"},{"offset":0.4625,"color":"#b8e6b8"},{"offset":0.475,"color":"#1a9a55"},{"offset":0.4875,"color":"#b8e6b8"},{"offset":0.5,"color":"#1a9a55"},{"offset":0.5125,"color":"#b8e6b8"},{"offset":0.525,"color":"#1a9a55"},{"offset":0.5375,"color":"#b8e6b8"},{"offset":0.55,"color":"#1a9a55"},{"offset":0.5625,"color":"#b8e6b8"},{"offset":0.575,"color":"#1a9a55"},{"offset":0.5875,"color":"#b8e6b8"},{"offset":0.6,"color":"#1a9a55"},{"offset":0.6125,"color":"#b8e6b8"},{"offset":0.625,"color":"#1a9a55"},{"offset":0.6375,"color":"#b8e6b8"},{"offset":0.65,"color":"#1a9a55"},{"offset":0.6625,"color":"#b8e6b8"},{"offset":0.675,"color":"#1a9a55"},{"offset":0.6875,"color":"#b8e6b8"},{"offset":0.7,"color":"#1a9a55"},{"offset":0.7125,"color":"#b8e6b8"},{"offset":0.725,"color":"#1a9a55"},{"offset":0.7375,"color":"#b8e6b8"},{"offset":0.75,"color":"#1a9a55"},{"offset":0.7625,"color":"#b8e6b8"},{"offset":0.775,"color":"#1a9a55"},{"offset":0.7875,"color":"#b8e6b8"},{"offset":0.8,"color":"#1a9a55"},{"offset":0.8125,"color":"#b8e6b8"},{"offset":0.825,"color":"#1a9a55"},{"offset":0.8375,"color":"#b8e6b8"},{"offset":0.85,"color":"#1a9a55"},{"offset":0.8625,"color":"#b8e6b8"},{"offset":0.875,"color":"#1a9a55"},{"offset":0.8875,"color":"#b8e6b8"},{"offset":0.9,"color":"#1a9a55"},{"offset":0.9125,"color":"#b8e6b8"},{"offset":0.925,"color":"#1a9a55"},{"offset":0.9375,"color":"#b8e6b8"},{"offset":0.95,"color":"#1a9a55"},{"offset":0.9625,"color":"#b8e6b8"},{"offset":0.975,"color":"#1a9a55"},{"offset":0.9875,"color":"#b8e6b8"},{"offset":1,"color":"#1a9a55"}]}},
              "encoding": {"y": {"field": "v", "type": "quantitative"}}
            },
            {
              "transform": [{"filter": "datum.key === '4.2 slow'"}],
              "mark": {"type": "bar", "fill": {"gradient": "linear", "x1": 0, "y1": 0, "x2": 0.057, "y2": 1, "stops": [
                {"offset":0,"color":"#1a3cf0"},{"offset":0.0125,"color":"#a8ccfa"},{"offset":0.025,"color":"#1a3cf0"},{"offset":0.0375,"color":"#a8ccfa"},{"offset":0.05,"color":"#1a3cf0"},{"offset":0.0625,"color":"#a8ccfa"},{"offset":0.075,"color":"#1a3cf0"},{"offset":0.0875,"color":"#a8ccfa"},{"offset":0.1,"color":"#1a3cf0"},{"offset":0.1125,"color":"#a8ccfa"},{"offset":0.125,"color":"#1a3cf0"},{"offset":0.1375,"color":"#a8ccfa"},{"offset":0.15,"color":"#1a3cf0"},{"offset":0.1625,"color":"#a8ccfa"},{"offset":0.175,"color":"#1a3cf0"},{"offset":0.1875,"color":"#a8ccfa"},{"offset":0.2,"color":"#1a3cf0"},{"offset":0.2125,"color":"#a8ccfa"},{"offset":0.225,"color":"#1a3cf0"},{"offset":0.2375,"color":"#a8ccfa"},{"offset":0.25,"color":"#1a3cf0"},{"offset":0.2625,"color":"#a8ccfa"},{"offset":0.275,"color":"#1a3cf0"},{"offset":0.2875,"color":"#a8ccfa"},{"offset":0.3,"color":"#1a3cf0"},{"offset":0.3125,"color":"#a8ccfa"},{"offset":0.325,"color":"#1a3cf0"},{"offset":0.3375,"color":"#a8ccfa"},{"offset":0.35,"color":"#1a3cf0"},{"offset":0.3625,"color":"#a8ccfa"},{"offset":0.375,"color":"#1a3cf0"},{"offset":0.3875,"color":"#a8ccfa"},{"offset":0.4,"color":"#1a3cf0"},{"offset":0.4125,"color":"#a8ccfa"},{"offset":0.425,"color":"#1a3cf0"},{"offset":0.4375,"color":"#a8ccfa"},{"offset":0.45,"color":"#1a3cf0"},{"offset":0.4625,"color":"#a8ccfa"},{"offset":0.475,"color":"#1a3cf0"},{"offset":0.4875,"color":"#a8ccfa"},{"offset":0.5,"color":"#1a3cf0"},{"offset":0.5125,"color":"#a8ccfa"},{"offset":0.525,"color":"#1a3cf0"},{"offset":0.5375,"color":"#a8ccfa"},{"offset":0.55,"color":"#1a3cf0"},{"offset":0.5625,"color":"#a8ccfa"},{"offset":0.575,"color":"#1a3cf0"},{"offset":0.5875,"color":"#a8ccfa"},{"offset":0.6,"color":"#1a3cf0"},{"offset":0.6125,"color":"#a8ccfa"},{"offset":0.625,"color":"#1a3cf0"},{"offset":0.6375,"color":"#a8ccfa"},{"offset":0.65,"color":"#1a3cf0"},{"offset":0.6625,"color":"#a8ccfa"},{"offset":0.675,"color":"#1a3cf0"},{"offset":0.6875,"color":"#a8ccfa"},{"offset":0.7,"color":"#1a3cf0"},{"offset":0.7125,"color":"#a8ccfa"},{"offset":0.725,"color":"#1a3cf0"},{"offset":0.7375,"color":"#a8ccfa"},{"offset":0.75,"color":"#1a3cf0"},{"offset":0.7625,"color":"#a8ccfa"},{"offset":0.775,"color":"#1a3cf0"},{"offset":0.7875,"color":"#a8ccfa"},{"offset":0.8,"color":"#1a3cf0"},{"offset":0.8125,"color":"#a8ccfa"},{"offset":0.825,"color":"#1a3cf0"},{"offset":0.8375,"color":"#a8ccfa"},{"offset":0.85,"color":"#1a3cf0"},{"offset":0.8625,"color":"#a8ccfa"},{"offset":0.875,"color":"#1a3cf0"},{"offset":0.8875,"color":"#a8ccfa"},{"offset":0.9,"color":"#1a3cf0"},{"offset":0.9125,"color":"#a8ccfa"},{"offset":0.925,"color":"#1a3cf0"},{"offset":0.9375,"color":"#a8ccfa"},{"offset":0.95,"color":"#1a3cf0"},{"offset":0.9625,"color":"#a8ccfa"},{"offset":0.975,"color":"#1a3cf0"},{"offset":0.9875,"color":"#a8ccfa"},{"offset":1,"color":"#1a3cf0"}]}},
              "encoding": {"y": {"field": "v", "type": "quantitative"}}
            },
            {
              "transform": [{"filter": "datum.key === 'none fast'"}],
              "mark": {"type": "bar", "fill": {"gradient": "linear", "x1": 1, "y1": 0, "x2": 0.889, "y2": 1, "stops": [
                {"offset":0,"color":"#1a1a1a"},{"offset":0.0417,"color":"#1a1a1a"},{"offset":0.0417,"color":"#8c8c8c"},{"offset":0.0833,"color":"#8c8c8c"},{"offset":0.0833,"color":"#1a1a1a"},{"offset":0.125,"color":"#1a1a1a"},{"offset":0.125,"color":"#8c8c8c"},{"offset":0.1667,"color":"#8c8c8c"},{"offset":0.1667,"color":"#1a1a1a"},{"offset":0.2083,"color":"#1a1a1a"},{"offset":0.2083,"color":"#8c8c8c"},{"offset":0.25,"color":"#8c8c8c"},{"offset":0.25,"color":"#1a1a1a"},{"offset":0.2917,"color":"#1a1a1a"},{"offset":0.2917,"color":"#8c8c8c"},{"offset":0.3333,"color":"#8c8c8c"},{"offset":0.3333,"color":"#1a1a1a"},{"offset":0.375,"color":"#1a1a1a"},{"offset":0.375,"color":"#8c8c8c"},{"offset":0.4167,"color":"#8c8c8c"},{"offset":0.4167,"color":"#1a1a1a"},{"offset":0.4583,"color":"#1a1a1a"},{"offset":0.4583,"color":"#8c8c8c"},{"offset":0.5,"color":"#8c8c8c"},{"offset":0.5,"color":"#1a1a1a"},{"offset":0.5417,"color":"#1a1a1a"},{"offset":0.5417,"color":"#8c8c8c"},{"offset":0.5833,"color":"#8c8c8c"},{"offset":0.5833,"color":"#1a1a1a"},{"offset":0.625,"color":"#1a1a1a"},{"offset":0.625,"color":"#8c8c8c"},{"offset":0.6667,"color":"#8c8c8c"},{"offset":0.6667,"color":"#1a1a1a"},{"offset":0.7083,"color":"#1a1a1a"},{"offset":0.7083,"color":"#8c8c8c"},{"offset":0.75,"color":"#8c8c8c"},{"offset":0.75,"color":"#1a1a1a"},{"offset":0.7917,"color":"#1a1a1a"},{"offset":0.7917,"color":"#8c8c8c"},{"offset":0.8333,"color":"#8c8c8c"},{"offset":0.8333,"color":"#1a1a1a"},{"offset":0.875,"color":"#1a1a1a"},{"offset":0.875,"color":"#8c8c8c"},{"offset":0.9167,"color":"#8c8c8c"},{"offset":0.9167,"color":"#1a1a1a"},{"offset":0.9583,"color":"#1a1a1a"},{"offset":0.9583,"color":"#8c8c8c"},{"offset":1,"color":"#8c8c8c"}]}},
              "encoding": {"y": {"field": "v", "type": "quantitative"}}
            },
            {
              "transform": [{"filter": "datum.key === '3.1 fast'"}],
              "mark": {"type": "bar", "fill": {"gradient": "linear", "x1": 1, "y1": 0, "x2": 0.885, "y2": 1, "stops": [
                {"offset":0,"color":"#b81c1c"},{"offset":0.0417,"color":"#b81c1c"},{"offset":0.0417,"color":"#f59a9a"},{"offset":0.0833,"color":"#f59a9a"},{"offset":0.0833,"color":"#b81c1c"},{"offset":0.125,"color":"#b81c1c"},{"offset":0.125,"color":"#f59a9a"},{"offset":0.1667,"color":"#f59a9a"},{"offset":0.1667,"color":"#b81c1c"},{"offset":0.2083,"color":"#b81c1c"},{"offset":0.2083,"color":"#f59a9a"},{"offset":0.25,"color":"#f59a9a"},{"offset":0.25,"color":"#b81c1c"},{"offset":0.2917,"color":"#b81c1c"},{"offset":0.2917,"color":"#f59a9a"},{"offset":0.3333,"color":"#f59a9a"},{"offset":0.3333,"color":"#b81c1c"},{"offset":0.375,"color":"#b81c1c"},{"offset":0.375,"color":"#f59a9a"},{"offset":0.4167,"color":"#f59a9a"},{"offset":0.4167,"color":"#b81c1c"},{"offset":0.4583,"color":"#b81c1c"},{"offset":0.4583,"color":"#f59a9a"},{"offset":0.5,"color":"#f59a9a"},{"offset":0.5,"color":"#b81c1c"},{"offset":0.5417,"color":"#b81c1c"},{"offset":0.5417,"color":"#f59a9a"},{"offset":0.5833,"color":"#f59a9a"},{"offset":0.5833,"color":"#b81c1c"},{"offset":0.625,"color":"#b81c1c"},{"offset":0.625,"color":"#f59a9a"},{"offset":0.6667,"color":"#f59a9a"},{"offset":0.6667,"color":"#b81c1c"},{"offset":0.7083,"color":"#b81c1c"},{"offset":0.7083,"color":"#f59a9a"},{"offset":0.75,"color":"#f59a9a"},{"offset":0.75,"color":"#b81c1c"},{"offset":0.7917,"color":"#b81c1c"},{"offset":0.7917,"color":"#f59a9a"},{"offset":0.8333,"color":"#f59a9a"},{"offset":0.8333,"color":"#b81c1c"},{"offset":0.875,"color":"#b81c1c"},{"offset":0.875,"color":"#f59a9a"},{"offset":0.9167,"color":"#f59a9a"},{"offset":0.9167,"color":"#b81c1c"},{"offset":0.9583,"color":"#b81c1c"},{"offset":0.9583,"color":"#f59a9a"},{"offset":1,"color":"#f59a9a"}]}},
              "encoding": {"y": {"field": "v", "type": "quantitative"}}
            },
            {
              "transform": [{"filter": "datum.key === '1.8 fast'"}],
              "mark": {"type": "bar", "fill": {"gradient": "linear", "x1": 1, "y1": 0, "x2": 0.879, "y2": 1, "stops": [
                {"offset":0,"color":"#0a7a40"},{"offset":0.0417,"color":"#0a7a40"},{"offset":0.0417,"color":"#a8dca8"},{"offset":0.0833,"color":"#a8dca8"},{"offset":0.0833,"color":"#0a7a40"},{"offset":0.125,"color":"#0a7a40"},{"offset":0.125,"color":"#a8dca8"},{"offset":0.1667,"color":"#a8dca8"},{"offset":0.1667,"color":"#0a7a40"},{"offset":0.2083,"color":"#0a7a40"},{"offset":0.2083,"color":"#a8dca8"},{"offset":0.25,"color":"#a8dca8"},{"offset":0.25,"color":"#0a7a40"},{"offset":0.2917,"color":"#0a7a40"},{"offset":0.2917,"color":"#a8dca8"},{"offset":0.3333,"color":"#a8dca8"},{"offset":0.3333,"color":"#0a7a40"},{"offset":0.375,"color":"#0a7a40"},{"offset":0.375,"color":"#a8dca8"},{"offset":0.4167,"color":"#a8dca8"},{"offset":0.4167,"color":"#0a7a40"},{"offset":0.4583,"color":"#0a7a40"},{"offset":0.4583,"color":"#a8dca8"},{"offset":0.5,"color":"#a8dca8"},{"offset":0.5,"color":"#0a7a40"},{"offset":0.5417,"color":"#0a7a40"},{"offset":0.5417,"color":"#a8dca8"},{"offset":0.5833,"color":"#a8dca8"},{"offset":0.5833,"color":"#0a7a40"},{"offset":0.625,"color":"#0a7a40"},{"offset":0.625,"color":"#a8dca8"},{"offset":0.6667,"color":"#a8dca8"},{"offset":0.6667,"color":"#0a7a40"},{"offset":0.7083,"color":"#0a7a40"},{"offset":0.7083,"color":"#a8dca8"},{"offset":0.75,"color":"#a8dca8"},{"offset":0.75,"color":"#0a7a40"},{"offset":0.7917,"color":"#0a7a40"},{"offset":0.7917,"color":"#a8dca8"},{"offset":0.8333,"color":"#a8dca8"},{"offset":0.8333,"color":"#0a7a40"},{"offset":0.875,"color":"#0a7a40"},{"offset":0.875,"color":"#a8dca8"},{"offset":0.9167,"color":"#a8dca8"},{"offset":0.9167,"color":"#0a7a40"},{"offset":0.9583,"color":"#0a7a40"},{"offset":0.9583,"color":"#a8dca8"},{"offset":1,"color":"#a8dca8"}]}},
              "encoding": {"y": {"field": "v", "type": "quantitative"}}
            },
            {
              "transform": [{"filter": "datum.key === '4.2 fast'"}],
              "mark": {"type": "bar", "fill": {"gradient": "linear", "x1": 1, "y1": 0, "x2": 0.87, "y2": 1, "stops": [
                {"offset":0,"color":"#0a22e0"},{"offset":0.0417,"color":"#0a22e0"},{"offset":0.0417,"color":"#8ab8f8"},{"offset":0.0833,"color":"#8ab8f8"},{"offset":0.0833,"color":"#0a22e0"},{"offset":0.125,"color":"#0a22e0"},{"offset":0.125,"color":"#8ab8f8"},{"offset":0.1667,"color":"#8ab8f8"},{"offset":0.1667,"color":"#0a22e0"},{"offset":0.2083,"color":"#0a22e0"},{"offset":0.2083,"color":"#8ab8f8"},{"offset":0.25,"color":"#8ab8f8"},{"offset":0.25,"color":"#0a22e0"},{"offset":0.2917,"color":"#0a22e0"},{"offset":0.2917,"color":"#8ab8f8"},{"offset":0.3333,"color":"#8ab8f8"},{"offset":0.3333,"color":"#0a22e0"},{"offset":0.375,"color":"#0a22e0"},{"offset":0.375,"color":"#8ab8f8"},{"offset":0.4167,"color":"#8ab8f8"},{"offset":0.4167,"color":"#0a22e0"},{"offset":0.4583,"color":"#0a22e0"},{"offset":0.4583,"color":"#8ab8f8"},{"offset":0.5,"color":"#8ab8f8"},{"offset":0.5,"color":"#0a22e0"},{"offset":0.5417,"color":"#0a22e0"},{"offset":0.5417,"color":"#8ab8f8"},{"offset":0.5833,"color":"#8ab8f8"},{"offset":0.5833,"color":"#0a22e0"},{"offset":0.625,"color":"#0a22e0"},{"offset":0.625,"color":"#8ab8f8"},{"offset":0.6667,"color":"#8ab8f8"},{"offset":0.6667,"color":"#0a22e0"},{"offset":0.7083,"color":"#0a22e0"},{"offset":0.7083,"color":"#8ab8f8"},{"offset":0.75,"color":"#8ab8f8"},{"offset":0.75,"color":"#0a22e0"},{"offset":0.7917,"color":"#0a22e0"},{"offset":0.7917,"color":"#8ab8f8"},{"offset":0.8333,"color":"#8ab8f8"},{"offset":0.8333,"color":"#0a22e0"},{"offset":0.875,"color":"#0a22e0"},{"offset":0.875,"color":"#8ab8f8"},{"offset":0.9167,"color":"#8ab8f8"},{"offset":0.9167,"color":"#0a22e0"},{"offset":0.9583,"color":"#0a22e0"},{"offset":0.9583,"color":"#8ab8f8"},{"offset":1,"color":"#8ab8f8"}]}},
              "encoding": {"y": {"field": "v", "type": "quantitative"}}
            },
            {
              "mark": {"type": "rule", "strokeWidth": 1.8},
              "encoding": {
                "y": {"field": "lo", "type": "quantitative"},
                "y2": {"field": "hi"},
                "stroke": {"field": "tpm", "type": "nominal", "scale": {"domain": ["none", "3.1", "1.8", "4.2"], "range": ["#444444", "#8e1414", "#0c4f2c", "#1a1a6e"]}, "legend": null}
              }
            },
            {
              "mark": {"type": "tick", "size": 7, "thickness": 1.8},
              "encoding": {
                "y": {"field": "hi", "type": "quantitative"},
                "fill": {"field": "tpm", "type": "nominal", "scale": {"domain": ["none", "3.1", "1.8", "4.2"], "range": ["#444444", "#8e1414", "#0c4f2c", "#1a1a6e"]}, "legend": null}
              }
            },
            {
              "mark": {"type": "tick", "size": 7, "thickness": 1.8},
              "encoding": {
                "y": {"field": "lo", "type": "quantitative"},
                "fill": {"field": "tpm", "type": "nominal", "legend": null}
              }
            },
            {
              "transform": [{"filter": "datum.sig"}],
              "mark": {"type": "text", "fontSize": 16, "baseline": "bottom", "dy": -5},
              "encoding": {
                "y": {"field": "hi", "type": "quantitative"},
                "text": {"field": "sig"}
              }
            },
            {
              "mark": {"type": "text", "angle": 270, "align": "right", "baseline": "middle", "dx": -6, "fontSize": 17},
              "encoding": {
                "y": {"datum": 0, "type": "quantitative"},
                "text": {"field": "type"}
              }
            }
          ]
        }
      ]
    }
  ]
}
